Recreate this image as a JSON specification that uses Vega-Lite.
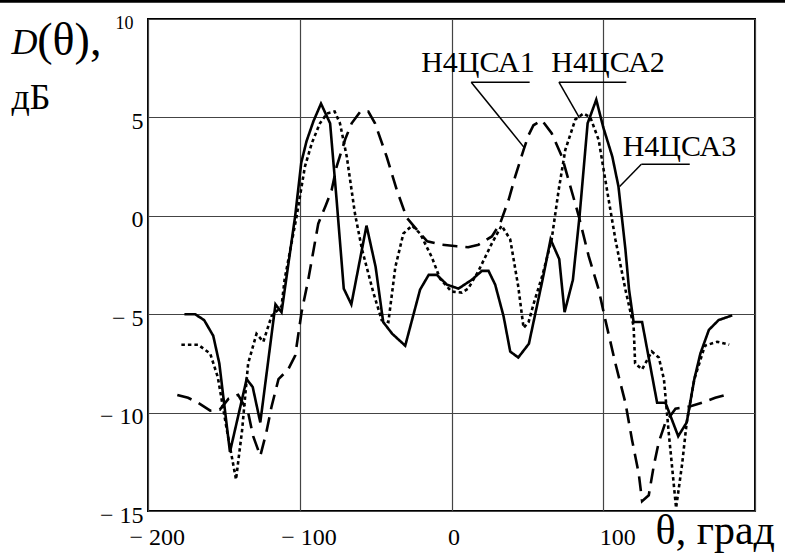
{
  "$schema": "https://vega.github.io/schema/vega-lite/v6.json",
  "width": 607,
  "height": 492,
  "autosize": {"type": "none"},
  "padding": {"left": 148, "top": 19, "right": 30, "bottom": 42},
  "background": "white",
  "config": {"view": {"stroke": "black", "strokeWidth": 2}, "font": "Liberation Serif"},
  "datasets": {
    "curves": [
      {"series": "Н4ЦСА3", "theta": -176, "dB": -5.0},
      {"series": "Н4ЦСА3", "theta": -169, "dB": -5.0},
      {"series": "Н4ЦСА3", "theta": -163, "dB": -5.3},
      {"series": "Н4ЦСА3", "theta": -157, "dB": -6.1},
      {"series": "Н4ЦСА3", "theta": -153, "dB": -7.5},
      {"series": "Н4ЦСА3", "theta": -146, "dB": -12.0},
      {"series": "Н4ЦСА3", "theta": -135, "dB": -8.3},
      {"series": "Н4ЦСА3", "theta": -131, "dB": -8.7},
      {"series": "Н4ЦСА3", "theta": -126, "dB": -10.5},
      {"series": "Н4ЦСА3", "theta": -116, "dB": -4.5},
      {"series": "Н4ЦСА3", "theta": -112, "dB": -4.9},
      {"series": "Н4ЦСА3", "theta": -103, "dB": 0.0},
      {"series": "Н4ЦСА3", "theta": -99, "dB": 2.7},
      {"series": "Н4ЦСА3", "theta": -95.5, "dB": 3.8},
      {"series": "Н4ЦСА3", "theta": -91, "dB": 4.8},
      {"series": "Н4ЦСА3", "theta": -86, "dB": 5.7},
      {"series": "Н4ЦСА3", "theta": -80, "dB": 4.7},
      {"series": "Н4ЦСА3", "theta": -75.7, "dB": 0.8},
      {"series": "Н4ЦСА3", "theta": -71, "dB": -3.7},
      {"series": "Н4ЦСА3", "theta": -66, "dB": -4.5},
      {"series": "Н4ЦСА3", "theta": -56, "dB": -0.5},
      {"series": "Н4ЦСА3", "theta": -50, "dB": -2.6},
      {"series": "Н4ЦСА3", "theta": -45, "dB": -5.4},
      {"series": "Н4ЦСА3", "theta": -39, "dB": -6.0},
      {"series": "Н4ЦСА3", "theta": -30.5, "dB": -6.6},
      {"series": "Н4ЦСА3", "theta": -20.7, "dB": -3.75},
      {"series": "Н4ЦСА3", "theta": -15, "dB": -3.0},
      {"series": "Н4ЦСА3", "theta": -9.7, "dB": -3.0},
      {"series": "Н4ЦСА3", "theta": -3, "dB": -3.5},
      {"series": "Н4ЦСА3", "theta": 4.6, "dB": -3.7},
      {"series": "Н4ЦСА3", "theta": 13.4, "dB": -3.25},
      {"series": "Н4ЦСА3", "theta": 20, "dB": -2.8},
      {"series": "Н4ЦСА3", "theta": 24.4, "dB": -2.8},
      {"series": "Н4ЦСА3", "theta": 28.8, "dB": -3.5},
      {"series": "Н4ЦСА3", "theta": 34.3, "dB": -5.1},
      {"series": "Н4ЦСА3", "theta": 38.7, "dB": -6.9},
      {"series": "Н4ЦСА3", "theta": 44, "dB": -7.2},
      {"series": "Н4ЦСА3", "theta": 51, "dB": -6.5},
      {"series": "Н4ЦСА3", "theta": 60, "dB": -3.25},
      {"series": "Н4ЦСА3", "theta": 65.3, "dB": -1.2},
      {"series": "Н4ЦСА3", "theta": 71, "dB": -2.2},
      {"series": "Н4ЦСА3", "theta": 74.5, "dB": -4.9},
      {"series": "Н4ЦСА3", "theta": 80, "dB": -3.25},
      {"series": "Н4ЦСА3", "theta": 84.4, "dB": 0.0},
      {"series": "Н4ЦСА3", "theta": 89.7, "dB": 4.7},
      {"series": "Н4ЦСА3", "theta": 95.4, "dB": 5.9},
      {"series": "Н4ЦСА3", "theta": 100, "dB": 4.5},
      {"series": "Н4ЦСА3", "theta": 106, "dB": 3.0},
      {"series": "Н4ЦСА3", "theta": 110, "dB": 1.5},
      {"series": "Н4ЦСА3", "theta": 114.6, "dB": -1.7},
      {"series": "Н4ЦСА3", "theta": 117, "dB": -3.75},
      {"series": "Н4ЦСА3", "theta": 120, "dB": -5.4},
      {"series": "Н4ЦСА3", "theta": 125.6, "dB": -5.4},
      {"series": "Н4ЦСА3", "theta": 135.5, "dB": -9.5},
      {"series": "Н4ЦСА3", "theta": 141, "dB": -9.5},
      {"series": "Н4ЦСА3", "theta": 149.4, "dB": -11.2},
      {"series": "Н4ЦСА3", "theta": 155, "dB": -10.5},
      {"series": "Н4ЦСА3", "theta": 160, "dB": -8.3},
      {"series": "Н4ЦСА3", "theta": 164, "dB": -7.0},
      {"series": "Н4ЦСА3", "theta": 169.6, "dB": -5.8},
      {"series": "Н4ЦСА3", "theta": 176, "dB": -5.3},
      {"series": "Н4ЦСА3", "theta": 185, "dB": -5.06},

      {"series": "Н4ЦСА2", "theta": -178, "dB": -6.55},
      {"series": "Н4ЦСА2", "theta": -167, "dB": -6.55},
      {"series": "Н4ЦСА2", "theta": -159, "dB": -7.0},
      {"series": "Н4ЦСА2", "theta": -154, "dB": -8.2},
      {"series": "Н4ЦСА2", "theta": -148, "dB": -10.9},
      {"series": "Н4ЦСА2", "theta": -142, "dB": -13.4},
      {"series": "Н4ЦСА2", "theta": -138, "dB": -10.9},
      {"series": "Н4ЦСА2", "theta": -134, "dB": -7.5},
      {"series": "Н4ЦСА2", "theta": -128.5, "dB": -6.0},
      {"series": "Н4ЦСА2", "theta": -124, "dB": -6.4},
      {"series": "Н4ЦСА2", "theta": -118.6, "dB": -5.1},
      {"series": "Н4ЦСА2", "theta": -112, "dB": -4.6},
      {"series": "Н4ЦСА2", "theta": -110, "dB": -3.25},
      {"series": "Н4ЦСА2", "theta": -102, "dB": 0.0},
      {"series": "Н4ЦСА2", "theta": -96.6, "dB": 2.5},
      {"series": "Н4ЦСА2", "theta": -92, "dB": 3.7},
      {"series": "Н4ЦСА2", "theta": -86.7, "dB": 4.7},
      {"series": "Н4ЦСА2", "theta": -82, "dB": 5.2},
      {"series": "Н4ЦСА2", "theta": -77, "dB": 5.3},
      {"series": "Н4ЦСА2", "theta": -73.5, "dB": 4.7},
      {"series": "Н4ЦСА2", "theta": -69, "dB": 3.0},
      {"series": "Н4ЦСА2", "theta": -63.6, "dB": 0.1},
      {"series": "Н4ЦСА2", "theta": -59, "dB": -1.7},
      {"series": "Н4ЦСА2", "theta": -51.5, "dB": -3.9},
      {"series": "Н4ЦСА2", "theta": -46, "dB": -5.3},
      {"series": "Н4ЦСА2", "theta": -41.6, "dB": -5.4},
      {"series": "Н4ЦСА2", "theta": -37, "dB": -2.6},
      {"series": "Н4ЦСА2", "theta": -31.7, "dB": -0.9},
      {"series": "Н4ЦСА2", "theta": -26, "dB": -0.5},
      {"series": "Н4ЦСА2", "theta": -20.7, "dB": -0.9},
      {"series": "Н4ЦСА2", "theta": -13, "dB": -2.1},
      {"series": "Н4ЦСА2", "theta": -7.5, "dB": -3.2},
      {"series": "Н4ЦСА2", "theta": 0, "dB": -3.85},
      {"series": "Н4ЦСА2", "theta": 6.8, "dB": -3.9},
      {"series": "Н4ЦСА2", "theta": 11, "dB": -3.7},
      {"series": "Н4ЦСА2", "theta": 17.8, "dB": -2.8},
      {"series": "Н4ЦСА2", "theta": 26.6, "dB": -1.4},
      {"series": "Н4ЦСА2", "theta": 33, "dB": -0.5},
      {"series": "Н4ЦСА2", "theta": 38.7, "dB": -1.2},
      {"series": "Н4ЦСА2", "theta": 44, "dB": -3.6},
      {"series": "Н4ЦСА2", "theta": 47.5, "dB": -5.7},
      {"series": "Н4ЦСА2", "theta": 50.8, "dB": -5.4},
      {"series": "Н4ЦСА2", "theta": 54, "dB": -4.5},
      {"series": "Н4ЦСА2", "theta": 60, "dB": -3.0},
      {"series": "Н4ЦСА2", "theta": 66, "dB": -1.2},
      {"series": "Н4ЦСА2", "theta": 70.6, "dB": 1.3},
      {"series": "Н4ЦСА2", "theta": 75, "dB": 3.35},
      {"series": "Н4ЦСА2", "theta": 81.6, "dB": 4.9},
      {"series": "Н4ЦСА2", "theta": 87, "dB": 5.2},
      {"series": "Н4ЦСА2", "theta": 91.5, "dB": 5.0},
      {"series": "Н4ЦСА2", "theta": 97, "dB": 3.85},
      {"series": "Н4ЦСА2", "theta": 102.5, "dB": 1.3},
      {"series": "Н4ЦСА2", "theta": 108, "dB": -1.2},
      {"series": "Н4ЦСА2", "theta": 114.6, "dB": -3.75},
      {"series": "Н4ЦСА2", "theta": 120, "dB": -5.6},
      {"series": "Н4ЦСА2", "theta": 121, "dB": -7.5},
      {"series": "Н4ЦСА2", "theta": 125.6, "dB": -7.8},
      {"series": "Н4ЦСА2", "theta": 132, "dB": -6.9},
      {"series": "Н4ЦСА2", "theta": 136.6, "dB": -7.2},
      {"series": "Н4ЦСА2", "theta": 140, "dB": -8.3},
      {"series": "Н4ЦСА2", "theta": 143, "dB": -10.9},
      {"series": "Н4ЦСА2", "theta": 148, "dB": -14.85},
      {"series": "Н4ЦСА2", "theta": 152, "dB": -12.6},
      {"series": "Н4ЦСА2", "theta": 155, "dB": -10.5},
      {"series": "Н4ЦСА2", "theta": 160, "dB": -8.3},
      {"series": "Н4ЦСА2", "theta": 167, "dB": -6.6},
      {"series": "Н4ЦСА2", "theta": 175, "dB": -6.4},
      {"series": "Н4ЦСА2", "theta": 183, "dB": -6.55},

      {"series": "Н4ЦСА1", "theta": -180.7, "dB": -9.1},
      {"series": "Н4ЦСА1", "theta": -173.6, "dB": -9.25},
      {"series": "Н4ЦСА1", "theta": -167, "dB": -9.5},
      {"series": "Н4ЦСА1", "theta": -159, "dB": -9.9},
      {"series": "Н4ЦСА1", "theta": -152.7, "dB": -9.85},
      {"series": "Н4ЦСА1", "theta": -147, "dB": -9.3},
      {"series": "Н4ЦСА1", "theta": -140.6, "dB": -9.1},
      {"series": "Н4ЦСА1", "theta": -134, "dB": -10.0},
      {"series": "Н4ЦСА1", "theta": -130.7, "dB": -11.2},
      {"series": "Н4ЦСА1", "theta": -126, "dB": -12.2},
      {"series": "Н4ЦСА1", "theta": -122, "dB": -11.0},
      {"series": "Н4ЦСА1", "theta": -118.6, "dB": -9.7},
      {"series": "Н4ЦСА1", "theta": -114, "dB": -8.3},
      {"series": "Н4ЦСА1", "theta": -107.6, "dB": -7.8},
      {"series": "Н4ЦСА1", "theta": -103, "dB": -7.1},
      {"series": "Н4ЦСА1", "theta": -98.8, "dB": -4.9},
      {"series": "Н4ЦСА1", "theta": -94.4, "dB": -3.25},
      {"series": "Н4ЦСА1", "theta": -87.8, "dB": -0.4},
      {"series": "Н4ЦСА1", "theta": -83, "dB": 0.5},
      {"series": "Н4ЦСА1", "theta": -79, "dB": 1.3},
      {"series": "Н4ЦСА1", "theta": -75.7, "dB": 2.5},
      {"series": "Н4ЦСА1", "theta": -70, "dB": 3.9},
      {"series": "Н4ЦСА1", "theta": -65.8, "dB": 4.7},
      {"series": "Н4ЦСА1", "theta": -60, "dB": 5.3},
      {"series": "Н4ЦСА1", "theta": -54.8, "dB": 5.3},
      {"series": "Н4ЦСА1", "theta": -50.4, "dB": 4.7},
      {"series": "Н4ЦСА1", "theta": -42.7, "dB": 3.0},
      {"series": "Н4ЦСА1", "theta": -36, "dB": 1.3},
      {"series": "Н4ЦСА1", "theta": -29.5, "dB": -0.1},
      {"series": "Н4ЦСА1", "theta": -24, "dB": -0.6},
      {"series": "Н4ЦСА1", "theta": -16, "dB": -1.3},
      {"series": "Н4ЦСА1", "theta": -6.4, "dB": -1.47},
      {"series": "Н4ЦСА1", "theta": 3.5, "dB": -1.55},
      {"series": "Н4ЦСА1", "theta": 11, "dB": -1.6},
      {"series": "Н4ЦСА1", "theta": 17.8, "dB": -1.47},
      {"series": "Н4ЦСА1", "theta": 26.6, "dB": -1.05},
      {"series": "Н4ЦСА1", "theta": 32, "dB": -0.4},
      {"series": "Н4ЦСА1", "theta": 37.6, "dB": 0.8},
      {"series": "Н4ЦСА1", "theta": 42, "dB": 2.0},
      {"series": "Н4ЦСА1", "theta": 47.5, "dB": 3.35},
      {"series": "Н4ЦСА1", "theta": 50.8, "dB": 4.1},
      {"series": "Н4ЦСА1", "theta": 54, "dB": 4.6},
      {"series": "Н4ЦСА1", "theta": 59.6, "dB": 4.85},
      {"series": "Н4ЦСА1", "theta": 66, "dB": 4.2},
      {"series": "Н4ЦСА1", "theta": 72.8, "dB": 3.0},
      {"series": "Н4ЦСА1", "theta": 78.3, "dB": 1.5},
      {"series": "Н4ЦСА1", "theta": 83.8, "dB": 0.0},
      {"series": "Н4ЦСА1", "theta": 90.4, "dB": -2.05},
      {"series": "Н4ЦСА1", "theta": 97, "dB": -3.75},
      {"series": "Н4ЦСА1", "theta": 101.4, "dB": -5.3},
      {"series": "Н4ЦСА1", "theta": 108, "dB": -7.5},
      {"series": "Н4ЦСА1", "theta": 114.6, "dB": -9.5},
      {"series": "Н4ЦСА1", "theta": 119, "dB": -11.4},
      {"series": "Н4ЦСА1", "theta": 123.4, "dB": -13.1},
      {"series": "Н4ЦСА1", "theta": 125.6, "dB": -14.5},
      {"series": "Н4ЦСА1", "theta": 130, "dB": -14.2},
      {"series": "Н4ЦСА1", "theta": 133.3, "dB": -12.7},
      {"series": "Н4ЦСА1", "theta": 136.6, "dB": -11.5},
      {"series": "Н4ЦСА1", "theta": 141, "dB": -10.5},
      {"series": "Н4ЦСА1", "theta": 147.6, "dB": -9.8},
      {"series": "Н4ЦСА1", "theta": 156.4, "dB": -9.7},
      {"series": "Н4ЦСА1", "theta": 165, "dB": -9.5},
      {"series": "Н4ЦСА1", "theta": 173.8, "dB": -9.25},
      {"series": "Н4ЦСА1", "theta": 180.5, "dB": -9.1}
    ],
    "leaders": [
      {"theta": 13.0, "dB": 6.79, "theta2": 51.5, "dB2": 6.79},
      {"theta": 13.0, "dB": 6.79, "theta2": 48.2, "dB2": 3.44},
      {"theta": 70.8, "dB": 6.79, "theta2": 115.2, "dB2": 6.79},
      {"theta": 70.8, "dB": 6.79, "theta2": 84.4, "dB2": 4.96},
      {"theta": 125.1, "dB": 2.62, "theta2": 157, "dB2": 2.62},
      {"theta": 125.1, "dB": 2.62, "theta2": 110.8, "dB2": 1.49}
    ],
    "topline": [
      {"theta": -300, "dB": 10.9, "theta2": 230, "dB2": 10.9}
    ],
    "labels": [
      {"t": "Н4ЦСА1", "theta": -20, "dB": 7.32},
      {"t": "Н4ЦСА2", "theta": 65.8, "dB": 7.32},
      {"t": "Н4ЦСА3", "theta": 112.8, "dB": 3.05}
    ],
    "titleD": [{"t": "D", "theta": -290, "dB": 8.2}],
    "titleP": [{"t": "(θ),", "theta": -273, "dB": 8.15}],
    "titleU": [{"t": "дБ", "theta": -290, "dB": 5.45}],
    "titleX": [{"t": "θ, град", "theta": 134.5, "dB": -16.7}]
  },
  "encoding": {
    "x": {
      "field": "theta", "type": "quantitative",
      "scale": {"domain": [-200, 200], "nice": false, "zero": false},
      "axis": {
        "values": [-200, -100, 0, 100, 200],
        "title": null, "grid": true, "gridColor": "#444", "gridWidth": 1.2,
        "ticks": false, "tickSize": 0, "domain": false,
        "labelFont": "Liberation Serif", "labelFontSize": 24, "labelColor": "black",
        "labelAlign": "left", "labelBaseline": "alphabetic", "labelPadding": 33,
        "labelOffset": {"condition": {"test": "datum.value < 0", "value": -19}, "value": -4},
        "labelExpr": "datum.value == 200 ? '' : (datum.value < 0 ? '− ' + abs(datum.value) : datum.label)",
        "labelOverlap": false, "labelFlush": false
      }
    },
    "y": {
      "field": "dB", "type": "quantitative",
      "scale": {"domain": [-15, 10], "nice": false, "zero": false},
      "axis": {
        "values": [-15, -10, -5, 0, 5, 10],
        "title": null, "grid": true, "gridColor": "#444", "gridWidth": 1.2,
        "ticks": false, "tickSize": 0, "domain": false,
        "labelFont": "Liberation Serif", "labelColor": "black",
        "labelFontSize": {"condition": {"test": "datum.value == 10", "value": 18}, "value": 24},
        "labelPadding": {"condition": {"test": "datum.value == 10", "value": 15}, "value": 5},
        "labelAlign": "right", "labelBaseline": "middle", "labelOffset": 4,
        "labelExpr": "datum.value < 0 ? '− ' + abs(datum.value) : datum.label",
        "labelOverlap": false, "labelFlush": false
      }
    }
  },
  "layer": [
    {
      "data": {"name": "curves"},
      "mark": {"type": "line", "strokeWidth": 2.6, "color": "black"},
      "encoding": {
        "strokeDash": {
          "field": "series", "type": "nominal",
          "scale": {"domain": ["Н4ЦСА1", "Н4ЦСА2", "Н4ЦСА3"], "range": [[15, 8], [3.5, 3], [1, 0]]},
          "legend": null
        }
      }
    },
    {
      "data": {"name": "leaders"},
      "mark": {"type": "rule", "strokeWidth": 1.5, "color": "black"},
      "encoding": {"x2": {"field": "theta2"}, "y2": {"field": "dB2"}}
    },
    {
      "data": {"name": "topline"},
      "mark": {"type": "rule", "strokeWidth": 3, "color": "black"},
      "encoding": {"x2": {"field": "theta2"}, "y2": {"field": "dB2"}}
    },
    {
      "data": {"name": "labels"},
      "mark": {"type": "text", "align": "left", "baseline": "alphabetic", "fontSize": 30, "font": "Liberation Serif", "color": "black"},
      "encoding": {"text": {"field": "t"}}
    },
    {
      "data": {"name": "titleD"},
      "mark": {"type": "text", "align": "left", "baseline": "alphabetic", "fontSize": 36, "fontStyle": "italic", "font": "Liberation Serif", "color": "black"},
      "encoding": {"text": {"field": "t"}}
    },
    {
      "data": {"name": "titleP"},
      "mark": {"type": "text", "align": "left", "baseline": "alphabetic", "fontSize": 46, "font": "Liberation Serif", "color": "black"},
      "encoding": {"text": {"field": "t"}}
    },
    {
      "data": {"name": "titleU"},
      "mark": {"type": "text", "align": "left", "baseline": "alphabetic", "fontSize": 36, "font": "Liberation Serif", "color": "black"},
      "encoding": {"text": {"field": "t"}}
    },
    {
      "data": {"name": "titleX"},
      "mark": {"type": "text", "align": "left", "baseline": "alphabetic", "fontSize": 42, "font": "Liberation Serif", "color": "black"},
      "encoding": {"text": {"field": "t"}}
    }
  ]
}
